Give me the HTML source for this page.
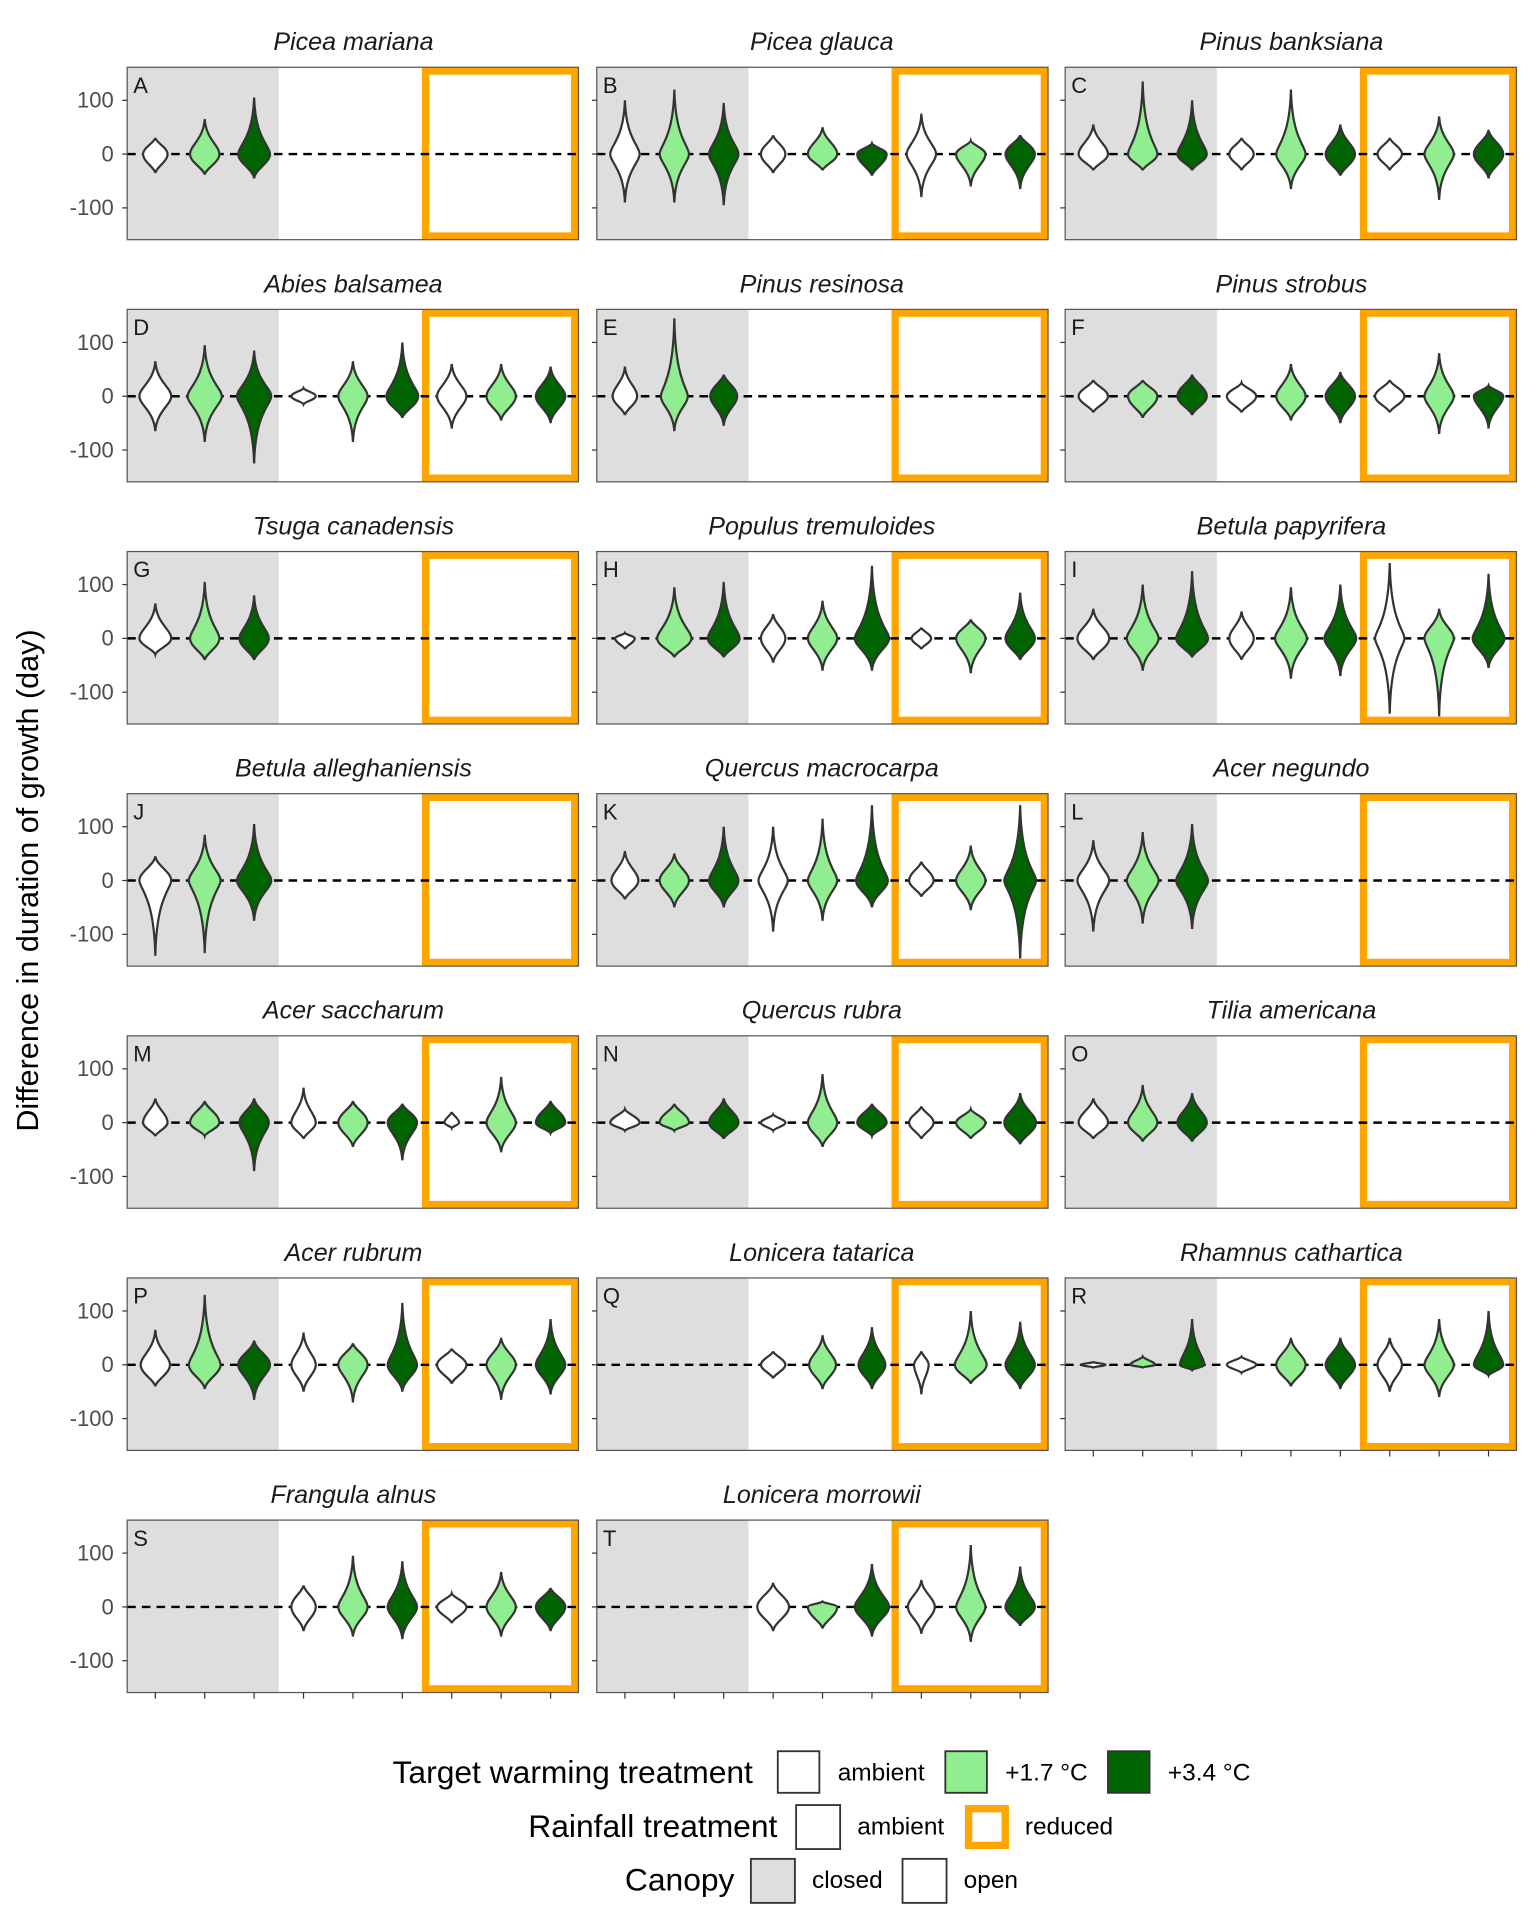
<!DOCTYPE html>
<html><head><meta charset="utf-8"><style>body{margin:0;background:#fff}svg{display:block}text{font-family:"Liberation Sans",sans-serif}</style></head>
<body>
<svg id="s" xmlns="http://www.w3.org/2000/svg" width="1536" height="1920" viewBox="0 0 1256 1570">
<g id="panels"></g>
<g font-size="20.5" font-style="italic" text-anchor="middle" fill="#1a1a1a">
<text x="289" y="41">Picea mariana</text><text x="672" y="41">Picea glauca</text><text x="1056" y="41">Pinus banksiana</text>
<text x="289" y="239">Abies balsamea</text><text x="672" y="239">Pinus resinosa</text><text x="1056" y="239">Pinus strobus</text>
<text x="289" y="437">Tsuga canadensis</text><text x="672" y="437">Populus tremuloides</text><text x="1056" y="437">Betula papyrifera</text>
<text x="289" y="635">Betula alleghaniensis</text><text x="672" y="635">Quercus macrocarpa</text><text x="1056" y="635">Acer negundo</text>
<text x="289" y="833">Acer saccharum</text><text x="672" y="833">Quercus rubra</text><text x="1056" y="833">Tilia americana</text>
<text x="289" y="1031">Acer rubrum</text><text x="672" y="1031">Lonicera tatarica</text><text x="1056" y="1031">Rhamnus cathartica</text>
<text x="289" y="1229">Frangula alnus</text><text x="672" y="1229">Lonicera morrowii</text>
</g>
<g font-size="18" fill="#1a1a1a">
<text x="109" y="76">A</text><text x="493" y="76">B</text><text x="876" y="76">C</text>
<text x="109" y="274">D</text><text x="493" y="274">E</text><text x="876" y="274">F</text>
<text x="109" y="472">G</text><text x="493" y="472">H</text><text x="876" y="472">I</text>
<text x="109" y="670">J</text><text x="493" y="670">K</text><text x="876" y="670">L</text>
<text x="109" y="868">M</text><text x="493" y="868">N</text><text x="876" y="868">O</text>
<text x="109" y="1066">P</text><text x="493" y="1066">Q</text><text x="876" y="1066">R</text>
<text x="109" y="1264">S</text><text x="493" y="1264">T</text>
</g>
<g font-size="18" fill="#4d4d4d" text-anchor="end">
<text x="93" y="88">100</text><text x="93" y="132">0</text><text x="93" y="176">-100</text>
<text x="93" y="286">100</text><text x="93" y="330">0</text><text x="93" y="374">-100</text>
<text x="93" y="484">100</text><text x="93" y="528">0</text><text x="93" y="572">-100</text>
<text x="93" y="682">100</text><text x="93" y="726">0</text><text x="93" y="770">-100</text>
<text x="93" y="880">100</text><text x="93" y="924">0</text><text x="93" y="968">-100</text>
<text x="93" y="1078">100</text><text x="93" y="1122">0</text><text x="93" y="1166">-100</text>
<text x="93" y="1276">100</text><text x="93" y="1320">0</text><text x="93" y="1364">-100</text>
</g>
<text transform="translate(31,720) rotate(-90)" font-size="25" text-anchor="middle" fill="#000">Difference in duration of growth (day)</text>
<g font-size="26" fill="#000">
<text x="321" y="1458">Target warming treatment</text>
<text x="432" y="1502">Rainfall treatment</text>
<text x="511" y="1546">Canopy</text>
</g>
<g font-size="20" fill="#000">
<text x="685" y="1456">ambient</text><text x="822" y="1456">+1.7 °C</text><text x="955" y="1456">+3.4 °C</text>
<text x="701" y="1500">ambient</text><text x="838" y="1500">reduced</text>
<text x="664" y="1544">closed</text><text x="788" y="1544">open</text>
</g>
<g stroke="#333" stroke-width="1.5">
<rect x="636" y="1432" width="34" height="34" fill="#fff"/>
<rect x="773" y="1432" width="34" height="34" fill="#90EE90"/>
<rect x="906" y="1432" width="34" height="34" fill="#006400"/>
<rect x="651" y="1476" width="36" height="36" fill="#fff"/>
<rect x="614" y="1520" width="36" height="36" fill="#dedede"/>
<rect x="738" y="1520" width="36" height="36" fill="#fff"/>
</g>
<rect x="792" y="1479" width="30" height="30" fill="#fff" stroke="#FFA500" stroke-width="6"/>
</svg>
<script>
var N=null;
var D={
A:[[30,-35,10],[65,-38,12],[105,-45,13]],
B:[[100,-90,12],[120,-90,12],[95,-95,12],[35,-35,10],[50,-30,12],[20,-40,12],[75,-80,12],[25,-60,12],[35,-65,12]],
C:[[55,-30,12],[135,-30,12],[100,-30,12],[30,-30,10],[120,-65,12],[55,-40,12],[30,-30,10],[70,-85,12],[45,-45,12]],
D:[[65,-65,13],[95,-85,14],[85,-125,14],[15,-15,10],[65,-85,12],[100,-40,13],[60,-60,12],[60,-45,12],[55,-50,12]],
E:[[55,-35,10],[145,-65,11],[40,-55,11]],
F:[[30,-30,12],[30,-40,12],[40,-35,12],[25,-30,12],[60,-45,12],[45,-50,12],[30,-30,12],[80,-70,12],[20,-60,12]],
G:[[65,-30,13],[105,-40,12],[80,-40,12]],
H:[[10,-20,8],[95,-35,14],[105,-35,13],[45,-45,10],[70,-60,12],[135,-60,14],[20,-20,8],[35,-65,12],[85,-40,12]],
I:[[55,-40,13],[100,-60,13],[125,-35,13],[50,-40,10],[95,-75,13],[100,-70,13],[140,-140,12],[55,-145,12],[120,-55,13]],
J:[[45,-140,13],[85,-135,13],[105,-75,14]],
K:[[55,-35,11],[50,-50,12],[100,-50,12],[100,-95,12],[115,-75,12],[140,-50,13],[35,-30,10],[65,-55,12],[140,-145,13]],
L:[[75,-95,13],[90,-80,13],[105,-90,13]],
M:[[45,-25,10],[40,-25,12],[45,-90,12],[65,-30,10],[40,-45,12],[35,-70,12],[20,-10,6],[85,-55,12],[40,-20,12]],
N:[[25,-15,12],[35,-15,12],[45,-30,12],[15,-15,10],[90,-45,12],[35,-25,12],[30,-30,10],[25,-30,12],[55,-40,13]],
O:[[45,-30,12],[70,-35,12],[55,-35,12]],
P:[[65,-40,12],[130,-45,13],[45,-65,13],[60,-50,10],[40,-70,12],[115,-50,12],[30,-35,12],[50,-65,12],[85,-55,12]],
Q:[N,N,N,[25,-25,10],[55,-45,11],[70,-45,11],[25,-55,6],[100,-35,13],[80,-45,12]],
R:[[5,-5,10],[15,-5,10],[85,-10,10],[15,-15,12],[50,-40,12],[50,-45,12],[50,-50,10],[85,-60,12],[100,-20,12]],
S:[N,N,N,[40,-45,10],[95,-55,12],[85,-60,12],[25,-30,12],[65,-55,12],[35,-45,12]],
T:[N,N,N,[45,-45,13],[10,-40,12],[80,-55,14],[50,-50,11],[115,-65,12],[75,-35,12]]};
var keys="ABCDEFGHIJKLMNOPQRST".split(""),cols=['#fff','#90EE90','#006400'],xs=[104,488,871];
var h='';
keys.forEach(function(k,i){
 var r=Math.floor(i/3),c=i%3,x0=xs[c],y0=55+198*r,W=369,H=141,y00=y0+71;
 function Y(v){return y00-v*0.44;}
 h+='<rect x="'+x0+'" y="'+y0+'" width="'+W+'" height="'+H+'" fill="#fff"/>';
 h+='<rect x="'+x0+'" y="'+y0+'" width="124" height="'+H+'" fill="#dedede"/>';
 h+='<rect x="'+(x0+244)+'" y="'+(y0+3)+'" width="'+(W-247)+'" height="'+(H-6)+'" fill="none" stroke="#FFA500" stroke-width="6"/>';
 h+='<line x1="'+x0+'" x2="'+(x0+W)+'" y1="'+y00+'" y2="'+y00+'" stroke="#000" stroke-width="2" stroke-dasharray="7,5"/>';
 (D[k]||[]).forEach(function(v,j){
  if(!v)return;
  var cx=x0+23+40.4*j,t=v[0],b=v[1],w=v[2];
  var bt=Math.min(t,40),bb=Math.max(b,-40);
  var p='M'+cx+','+Y(t)+' C'+(cx+0.08*w)+','+Y(bt*0.7)+' '+(cx+w)+','+Y(bt*0.4)+' '+(cx+w)+','+Y(0)+' C'+(cx+w)+','+Y(bb*0.4)+' '+(cx+0.08*w)+','+Y(bb*0.7)+' '+cx+','+Y(b)+
  ' C'+(cx-0.08*w)+','+Y(bb*0.7)+' '+(cx-w)+','+Y(bb*0.4)+' '+(cx-w)+','+Y(0)+' C'+(cx-w)+','+Y(bt*0.4)+' '+(cx-0.08*w)+','+Y(bt*0.7)+' '+cx+','+Y(t)+'Z';
  h+='<path d="'+p+'" fill="'+cols[j%3]+'" stroke="#333" stroke-width="1.8"/>';
 });
 h+='<rect x="'+x0+'" y="'+y0+'" width="'+W+'" height="'+H+'" fill="none" stroke="#555" stroke-width="1"/>';
 [100,0,-100].forEach(function(v){h+='<line x1="'+(x0-4)+'" x2="'+x0+'" y1="'+Y(v)+'" y2="'+Y(v)+'" stroke="#333"/>';});
 if(k=='R'||k=='S'||k=='T'){for(var j=0;j<9;j++){var cx=x0+23+40.4*j;h+='<line x1="'+cx+'" x2="'+cx+'" y1="'+(y0+H)+'" y2="'+(y0+H+5)+'" stroke="#333"/>';}}
});
document.getElementById('panels').innerHTML=h;
</script>
</body></html>
